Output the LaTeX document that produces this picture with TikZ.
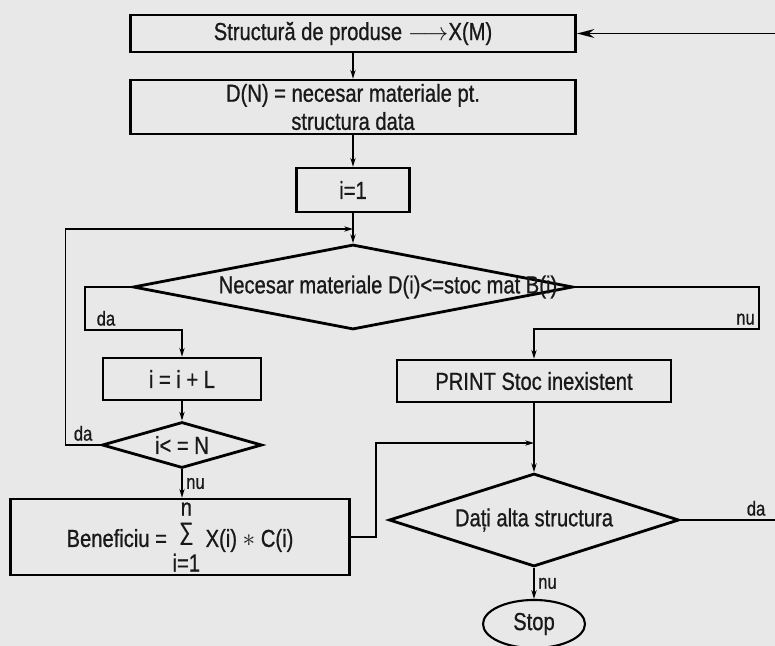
\documentclass[tikz,border=0pt]{standalone}
\usepackage{amsmath, amssymb}
\usepackage{tikz}
\usepackage{mathtools}
\usepackage{xcolor}
\usepackage{fontspec}
\setmainfont[FakeStretch=0.82, FakeBold=0.8]{Liberation Sans}
\usetikzlibrary{shapes.geometric, arrows.meta}
\newcommand{\flowsum}{\raisebox{-14pt}{\shortstack{n\\[1pt]∑\\[2pt]i=1}}}

\begin{document}
\begin{tikzpicture}[x=0.02cm, y=-0.02cm,
    every node/.style={font=\fontsize{14}{16}\selectfont, text=black!90},
    box/.style={draw, line width=1.5pt, inner sep=2pt},
    query/.style={draw, diamond, line width=1.6pt, inner sep=0pt},
    ans/.style={font=\fontsize{11.5}{13}\selectfont, inner sep=2pt},
    flow/.style={line width=0.85pt, -{Stealth[length=5pt, width=3pt]}},
    link/.style={line width=0.85pt}]
      \path [use as bounding box, fill=black!9] (0,0) rectangle (775,646);
      \node [box, minimum width=8.9cm, minimum height=0.74cm] (Struct) at (353,33.5) {Structură de produse $\longrightarrow$X(M)};
      \node [box, minimum width=8.9cm, minimum height=1.08cm, align=center] (Need) at (353,107) {D(N) = necesar materiale pt.\\ structura data};
      \node [box, minimum width=2.26cm, minimum height=0.88cm] (Init) at (353,190) {i=1};
      \node [query, minimum width=8.8cm, minimum height=1.7cm] (Test) at (353,287) {\makebox[0pt]{\hspace{1.4cm}Necesar materiale D(i)<=stoc mat B(i)}};
      \node [box, minimum width=3.16cm, minimum height=0.84cm] (Incr) at (182,379) {i = i + L};
      \node [query, minimum width=3.2cm, minimum height=0.92cm] (Loop) at (182,445) {\makebox[0pt]{i< = N}};
      \node [box, inner sep=1pt, minimum width=6.78cm, minimum height=1.52cm] (Gain) at (180,537) {Beneficiu = \flowsum{} X(i) $\ast$ C(i)};
      \node [box, minimum width=5.48cm, minimum height=0.84cm] (Print) at (534,381) {PRINT Stoc inexistent};
      \node [query, minimum width=5.8cm, minimum height=1.86cm] (Ask) at (534,520) {\makebox[0pt]{Dați alta structura}};
      \node [draw, ellipse, line width=1.2pt, minimum width=2.04cm, minimum height=0.96cm] (Stop) at (534,624) {Stop};
      \coordinate (Back) at (775,33.5);
      \coordinate (Join) at (353,229);
      \coordinate (Merge) at (534,443);
      \coordinate (Again) at (775,520);
      \draw [flow, -{Stealth[length=10pt, width=5pt]}] (Back) -- (Struct);
      \draw [flow] (Struct) -- (Need);
      \draw [flow] (Need) -- (Init);
      \draw [flow] (Init) -- (Test);
      \draw [flow] (Test.west) -| (85,330) node [ans, above right, xshift=0.15cm] {da} -| (Incr.north);
      \draw [flow] (Incr) -- (Loop);
      \draw [flow] (Loop.west) -- node [ans, above] {da} ++(-35,0) |- (Join);
      \draw [flow] (Loop.south) -- node [ans, right] {nu} (Loop.south |- Gain.north);
      \draw [flow] (Gain.east) -- ++(25,0) |- (Merge);
      \draw [flow] (Test.east) -| (759,329) node [ans, above left] {nu} -| (Print.north);
      \draw [flow] (Print) -- (Ask);
      \draw [flow] (Ask) -- node [ans, right] {nu} (Stop);
      \draw [link] (Ask.east) -- node [ans, above, pos=0.8] {da} (Again);
    \end{tikzpicture}
\end{document}
